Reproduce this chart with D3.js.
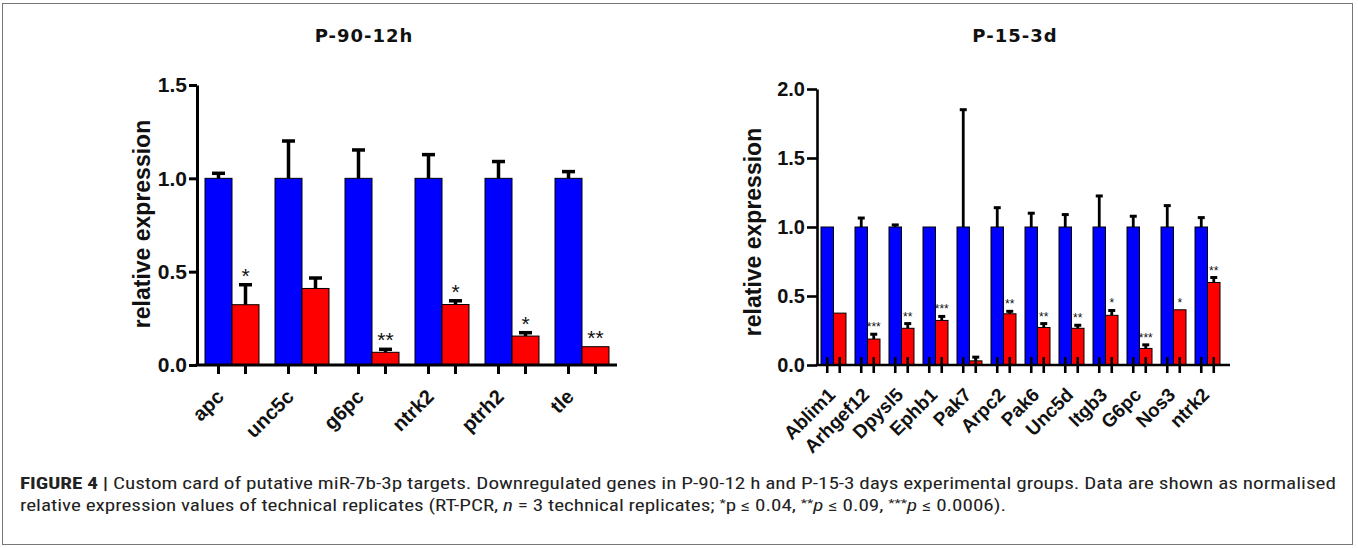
<!DOCTYPE html>
<html>
<head>
<meta charset="utf-8">
<script src="https://cdn.jsdelivr.net/npm/d3@7"></script>
<style>
  body { margin: 0; background: #fff; }
  svg { display: block; }
</style>
</head>
<body>
<div id="chart"></div>
<script>
// P-90-12h panel
const leftGenes = ['apc', 'unc5c', 'g6pc', 'ntrk2', 'ptrh2', 'tle'];
const leftCtrl = [1, 1, 1, 1, 1, 1];
const leftCtrlErr = [0.027, 0.20, 0.152, 0.127, 0.09, 0.036];
const leftTreat = [0.323, 0.41, 0.068, 0.324, 0.155, 0.098];
const leftTreatErr = [0.107, 0.056, 0.016, 0.02, 0.018, 0];
const leftStars = ['*', '', '**', '*', '*', '**'];
const leftTicks = [0, 0.5, 1.0, 1.5];

// P-15-3d panel
const rightGenes = ['Ablim1', 'Arhgef12', 'Dpysl5', 'Ephb1', 'Pak7', 'Arpc2', 'Pak6', 'Unc5d', 'Itgb3', 'G6pc', 'Nos3', 'ntrk2'];
const rightCtrl = [1, 1, 1, 1, 1, 1, 1, 1, 1, 1, 1, 1];
const rightCtrlErr = [0, 0.065, 0.015, 0, 0.85, 0.14, 0.10, 0.09, 0.225, 0.078, 0.155, 0.068];
const rightTreat = [0.376, 0.188, 0.266, 0.323, 0.03, 0.371, 0.272, 0.266, 0.36, 0.12, 0.40, 0.598];
const rightTreatErr = [0, 0.035, 0.034, 0.029, 0.027, 0.018, 0.028, 0.022, 0.035, 0.026, 0, 0.036];
const rightStars = ['', '***', '**', '***', '', '**', '**', '**', '*', '***', '*', '**'];
const rightTicks = [0, 0.5, 1.0, 1.5, 2.0];

const width = 1358, height = 548;
const blue = '#0000ff', red = '#ff0000';
const boldFont = 'Arial, "Liberation Sans", Helvetica, sans-serif';

const svg = d3.select('#chart').append('svg')
    .attr('width', width)
    .attr('height', height);

// frame round figure + caption
svg.append('rect')
    .attr('x', 2.5).attr('y', 3.5)
    .attr('width', 1350).attr('height', 541)
    .attr('fill', 'none')
    .attr('stroke', '#777')
    .attr('stroke-width', 1);

function drawPanel(p) {
    const g = svg.append('g');

    const x0 = d3.scaleBand()
        .domain(p.genes)
        .range(p.xRange)
        .paddingInner(p.padIn)
        .paddingOuter(p.padOut);
    const x1 = d3.scaleBand()
        .domain(['ctrl', 'treat'])
        .range([0, x0.bandwidth()]);
    const y = d3.scaleLinear()
        .domain([0, p.yMax])
        .range(p.yRange);

    const bars = [];
    p.genes.forEach((gene, i) => {
        bars.push({gene, key: 'ctrl', v: p.ctrl[i], e: p.ctrlErr[i], star: ''});
        bars.push({gene, key: 'treat', v: p.treat[i], e: p.treatErr[i], star: p.stars[i]});
    });
    const cx = d => x0(d.gene) + x1(d.key) + x1.bandwidth() / 2;

    // error bars (upper only, stem hidden inside the bar)
    const errs = g.selectAll('g.err')
        .data(bars.filter(d => d.e > 0))
        .enter().append('g').attr('class', 'err');
    errs.append('line')
        .attr('x1', cx).attr('x2', cx)
        .attr('y1', d => y(d.v)).attr('y2', d => y(d.v + d.e))
        .attr('stroke', '#000').attr('stroke-width', p.errW);
    errs.append('line')
        .attr('x1', d => cx(d) - p.capW / 2).attr('x2', d => cx(d) + p.capW / 2)
        .attr('y1', d => y(d.v + d.e)).attr('y2', d => y(d.v + d.e))
        .attr('stroke', '#000').attr('stroke-width', p.capT);

    // bars
    g.selectAll('rect.bar')
        .data(bars)
        .enter().append('rect')
        .attr('class', 'bar')
        .attr('x', d => x0(d.gene) + x1(d.key))
        .attr('width', x1.bandwidth())
        .attr('y', d => y(d.v))
        .attr('height', d => y(0) - y(d.v))
        .attr('fill', d => d.key === 'ctrl' ? blue : red)
        .attr('stroke', '#000')
        .attr('stroke-width', 1);

    // significance stars
    g.selectAll('text.star')
        .data(bars.filter(d => d.star))
        .enter().append('text')
        .attr('class', 'star')
        .attr('x', cx)
        .attr('y', d => y(d.v + d.e) - p.starGap)
        .attr('text-anchor', 'middle')
        .attr('font-family', boldFont)
        .attr('font-size', p.starSize)
        .attr('fill', '#111')
        .text(d => d.star);

    // y axis
    const yAxis = g.append('g')
        .attr('transform', `translate(${p.xRange[0]},0)`)
        .call(d3.axisLeft(y)
            .tickValues(p.ticks)
            .tickFormat(d3.format('.1f'))
            .tickSize(p.yTickLen)
            .tickSizeOuter(0)
            .tickPadding(2));
    yAxis.select('.domain').attr('stroke', '#000').attr('stroke-width', p.axisW);
    yAxis.selectAll('.tick line').attr('stroke', '#000').attr('stroke-width', p.axisW);
    yAxis.selectAll('.tick text')
        .attr('font-family', boldFont)
        .attr('font-weight', 'bold')
        .attr('font-size', p.tickSize)
        .attr('fill', '#111');

    // x axis line + ticks under every bar
    g.append('line')
        .attr('x1', p.xRange[0] - p.axisW / 2).attr('x2', p.xEnd)
        .attr('y1', y(0)).attr('y2', y(0))
        .attr('stroke', '#000').attr('stroke-width', p.axisW);
    g.selectAll('line.xtick')
        .data(bars)
        .enter().append('line')
        .attr('class', 'xtick')
        .attr('x1', cx).attr('x2', cx)
        .attr('y1', y(0) - p.xTickUp).attr('y2', y(0) + p.xTickDown)
        .attr('stroke', '#000').attr('stroke-width', p.xTickW);

    // category labels, rotated 45 degrees
    g.selectAll('text.cat')
        .data(p.genes)
        .enter().append('text')
        .attr('class', 'cat')
        .attr('transform', d => `translate(${x0(d) + x0.bandwidth() / 2 + p.labDx},${y(0) + p.labDy}) rotate(-45)`)
        .attr('text-anchor', 'end')
        .attr('font-family', boldFont)
        .attr('font-weight', 'bold')
        .attr('font-size', p.labSize)
        .attr('fill', '#111')
        .text(d => d);

    // y title
    g.append('text')
        .attr('transform', `translate(${p.yTitleX},${p.yTitleY}) rotate(-90)`)
        .attr('text-anchor', 'middle')
        .attr('font-family', boldFont)
        .attr('font-weight', 'bold')
        .attr('font-size', p.yTitleSize)
        .attr('fill', '#111')
        .text('relative expression');

    // panel title
    g.append('text')
        .attr('x', p.titleX).attr('y', 42)
        .attr('text-anchor', 'middle')
        .attr('font-family', '"DejaVu Sans", Verdana, sans-serif')
        .attr('font-weight', 'bold')
        .attr('font-size', 18)
        .attr('letter-spacing', 1)
        .attr('fill', '#111')
        .text(p.title);
}

drawPanel({
    title: 'P-90-12h', titleX: 364,
    genes: leftGenes, ctrl: leftCtrl, ctrlErr: leftCtrlErr,
    treat: leftTreat, treatErr: leftTreatErr, stars: leftStars,
    ticks: leftTicks, yMax: 1.5,
    xRange: [197, 617], padIn: 0.2286, padOut: 0.1143, xEnd: 617,
    yRange: [365, 85],
    errW: 3.5, capW: 13, capT: 3.5, starGap: 2, starSize: 21,
    axisW: 3, yTickLen: 8, tickSize: 21,
    xTickUp: 0, xTickDown: 9, xTickW: 3,
    labDx: -7, labDy: 33, labSize: 20,
    yTitleX: 150, yTitleY: 224, yTitleSize: 23
});

drawPanel({
    title: 'P-15-3d', titleX: 1015,
    genes: rightGenes, ctrl: rightCtrl, ctrlErr: rightCtrlErr,
    treat: rightTreat, treatErr: rightTreatErr, stars: rightStars,
    ticks: rightTicks, yMax: 2.0,
    xRange: [817, 1224], padIn: 0.265, padOut: 0.1175, xEnd: 1230,
    yRange: [365, 89],
    errW: 2.8, capW: 7, capT: 3, starGap: 3, starSize: 12,
    axisW: 2.6, yTickLen: 10, tickSize: 20,
    xTickUp: 8, xTickDown: 8, xTickW: 2.6,
    labDx: 3, labDy: 31, labSize: 19,
    yTitleX: 761, yTitleY: 232, yTitleSize: 23
});

// caption
const capFont = '"Liberation Sans Narrow", "Roboto Condensed", "Liberation Sans", Arial, sans-serif';
const cap1 = svg.append('text')
    .attr('x', 20).attr('y', 489)
    .attr('font-family', capFont)
    .attr('font-size', 16)
    .attr('fill', '#222')
    .attr('textLength', 1316)
    .attr('lengthAdjust', 'spacingAndGlyphs');
cap1.append('tspan').attr('font-weight', 'bold').text('FIGURE 4 | ');
cap1.append('tspan').text('Custom card of putative miR-7b-3p targets. Downregulated genes in P-90-12 h and P-15-3 days experimental groups. Data are shown as normalised');

const cap2 = svg.append('text')
    .attr('x', 20).attr('y', 511)
    .attr('font-family', capFont)
    .attr('font-size', 16)
    .attr('fill', '#222')
    .attr('textLength', 986)
    .attr('lengthAdjust', 'spacingAndGlyphs');
cap2.append('tspan').text('relative expression values of technical replicates (RT-PCR, ');
cap2.append('tspan').attr('font-style', 'italic').text('n');
cap2.append('tspan').text(' = 3 technical replicates; ');
cap2.append('tspan').attr('font-size', 11).attr('dy', -4).text('*');
cap2.append('tspan').attr('dy', 4).text('p \u2264 0.04, ');
cap2.append('tspan').attr('font-size', 11).attr('dy', -4).text('**');
cap2.append('tspan').attr('font-style', 'italic').attr('dy', 4).text('p');
cap2.append('tspan').text(' \u2264 0.09, ');
cap2.append('tspan').attr('font-size', 11).attr('dy', -4).text('***');
cap2.append('tspan').attr('font-style', 'italic').attr('dy', 4).text('p');
cap2.append('tspan').text(' \u2264 0.0006).');
</script>
</body>
</html>
